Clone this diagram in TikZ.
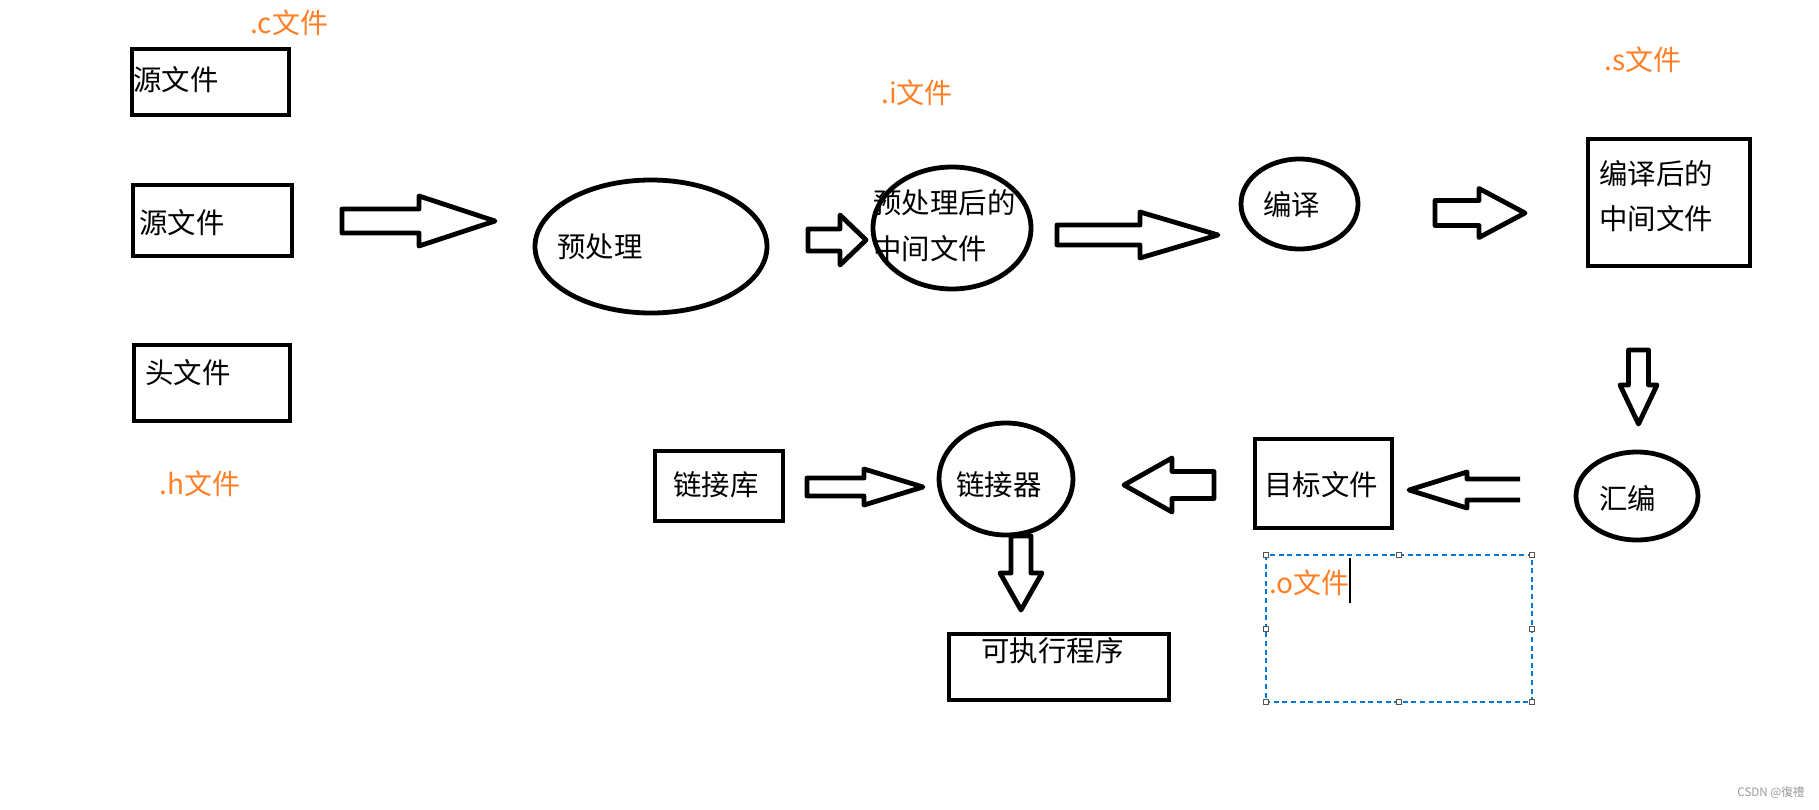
\documentclass[tikz,border=0pt]{standalone}
\usepackage{fontspec}
\newfontfamily\cjk{Noto Sans CJK SC}
\usetikzlibrary{shapes.geometric}
\definecolor{tagorange}{HTML}{FF7F27}
\definecolor{selblue}{HTML}{0078D7}
\definecolor{handlegray}{HTML}{555555}
\definecolor{wmgray}{HTML}{999999}
\newcommand\hblock[6]{% start, head base, tip, y centre, shaft half, head half
  \draw[blk] (#1,#4-#5) -- (#2,#4-#5) -- (#2,#4-#6) -- (#3,#4) -- (#2,#4+#6) -- (#2,#4+#5) -- (#1,#4+#5) -- cycle;}
\newcommand\vblock[6]{% start, head base, tip, x centre, shaft half, head half
  \draw[blk] (#4-#5,#1) -- (#4-#5,#2) -- (#4-#6,#2) -- (#4,#3) -- (#4+#6,#2) -- (#4+#5,#2) -- (#4+#5,#1) -- cycle;}
\tikzset{
  box/.style={draw, line width=2.4pt, rectangle, inner sep=0pt},
  oval/.style={draw, line width=2.4pt, ellipse, inner sep=0pt},
  lbl/.style={font=\cjk\fontsize{14.2}{17}\selectfont, inner sep=0pt, anchor=west},
  tag/.style={font=\cjk\fontsize{14}{17}\selectfont, text=tagorange, inner sep=0pt, anchor=west},
  blk/.style={draw, line width=2.4pt, line join=round, fill=white},
  handle/.style={draw=handlegray, fill=white, line width=0.5pt, minimum size=2.5pt, inner sep=0pt, rectangle},
}
\begin{document}
\begin{tikzpicture}[x=0.5pt, y=-0.5pt]
\useasboundingbox[fill=white] (0,0) rectangle (1819,809);

% left boxes
\node[box, minimum width=78.5pt, minimum height=33pt] (src1) at (210.5,82) {};
\node[box, minimum width=79.5pt, minimum height=35.5pt] (src2) at (212.5,220.5) {};
\node[box, minimum width=78pt, minimum height=38pt] (hdr) at (212,383) {};
\node[lbl] (tsrc1) at (133,80) {源文件};
\node[lbl] (tsrc2) at (139,223) {源文件};
\node[lbl] (thdr) at (145,373) {头文件};
\node[tag] (tc) at (250,23) {.c文件};
\node[tag] (th) at (159,484) {.h文件};

% preprocess
\node[oval, minimum width=116pt, minimum height=66.5pt] (pre) at (651,246.5) {};
\node[lbl] (tpre) at (557,247) {预处理};
\node[oval, minimum width=79pt, minimum height=61pt] (imid) at (952,228) {};
\node[lbl] (timid1) at (873,203) {预处理后的};
\node[lbl] (timid2) at (873,249) {中间文件};
\node[tag] (ti) at (881,93) {.i文件};

% compile
\node[oval, minimum width=58.5pt, minimum height=45pt] (comp) at (1299.5,204) {};
\node[lbl] (tcomp) at (1263,205) {编译};
\node[box, minimum width=81pt, minimum height=63.5pt] (smid) at (1669,202.5) {};
\node[lbl] (tsmid1) at (1599,174) {编译后的};
\node[lbl] (tsmid2) at (1599,219) {中间文件};
\node[tag] (ts) at (1604,60) {.s文件};

% assemble
\node[oval, minimum width=61pt, minimum height=44pt] (asm) at (1637,496) {};
\node[lbl] (tasm) at (1599,499) {汇编};
\node[box, minimum width=68.5pt, minimum height=44.5pt] (obj) at (1323.5,483.5) {};
\node[lbl] (tobj) at (1264,485) {目标文件};

% link
\node[box, minimum width=64pt, minimum height=35pt] (lib) at (719,486) {};
\node[lbl] (tlib) at (673,485) {链接库};
\node[oval, minimum width=67pt, minimum height=56pt] (lnk) at (1006,479) {};
\node[lbl] (tlnk) at (956,485) {链接器};
\node[box, minimum width=110pt, minimum height=33pt] (exe) at (1059,667) {};
\node[lbl] (texe) at (981,651) {可执行程序};

% block arrows
\hblock{342}{419}{495}{221}{12}{25}
\hblock{808}{840}{866}{240}{11}{25}
\hblock{1057}{1140}{1218}{235}{10}{23}
\hblock{1435}{1479}{1525}{213}{12.5}{24.5}
\vblock{350}{385}{424}{1638.5}{10}{18.5}
\draw[blk, fill=none] (1520,479) -- (1467,479) -- (1467,472) -- (1409,490) -- (1467,508) -- (1467,500) -- (1520,500);
\hblock{1214}{1172}{1124}{485}{13.5}{27}
\hblock{807}{864}{923}{487}{9}{18}
\vblock{536}{573}{610}{1021}{10}{21}

% selected text box
\draw[selblue, dashed, dash pattern=on 2.5pt off 1.8pt, line width=0.6pt] (1266,555) rectangle (1532,702);
\foreach \hx/\hy in {1266/555, 1399/555, 1532/555, 1266/628.5, 1532/628.5, 1266/702, 1399/702, 1532/702}
  \node[handle] at (\hx,\hy) {};
\node[tag] (to) at (1269,583) {.o文件};
\draw[line width=0.6pt] (1350,558) -- (1350,603);

% watermark
\node[font=\cjk\fontsize{5.8}{7}\selectfont, text=wmgray, inner sep=0pt, anchor=west] (wm) at (1737,793) {CSDN @復禮};
\end{tikzpicture}
\end{document}
